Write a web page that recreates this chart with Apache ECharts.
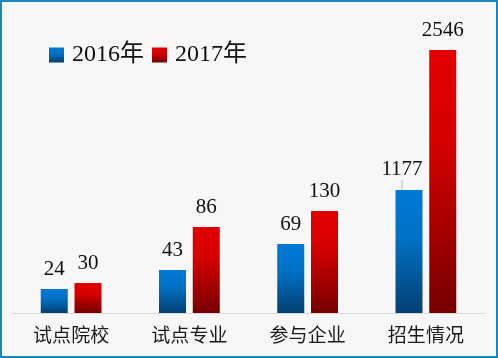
<!DOCTYPE html>
<html>
<head>
<meta charset="utf-8">
<script src="https://cdn.jsdelivr.net/npm/echarts@6/dist/echarts.min.js"></script>
<style>
html,body{margin:0;padding:0;background:#f7f7f7;}
#wrap{position:relative;width:498px;height:358px;}
#chart{width:498px;height:358px;}
#frame{position:absolute;left:0;top:0;width:498px;height:358px;box-sizing:border-box;border:2px solid #1a87c3;pointer-events:none;}
</style>
</head>
<body>
<div id="wrap"><div id="chart"></div><div id="frame"></div></div>
<script>
const categories = ['试点院校', '试点专业', '参与企业', '招生情况'];
const seriesNames = ['2016年', '2017年'];
const values2016 = [24, 43, 69, 1177];
const values2017 = [30, 86, 130, 2546];
const axisMax = 2546;
const movedLabelIndex = 3;

const chart = echarts.init(document.getElementById('chart'));
const blueGrad = new echarts.graphic.LinearGradient(0, 0, 0, 1, [
  {offset: 0, color: '#0079d6'},
  {offset: 0.4, color: '#0071c4'},
  {offset: 1, color: '#033f72'}
]);
const redGrad = new echarts.graphic.LinearGradient(0, 0, 0, 1, [
  {offset: 0, color: '#e30000'},
  {offset: 0.35, color: '#d60000'},
  {offset: 1, color: '#760000'}
]);
const serif = '"Liberation Serif", "Times New Roman", "Noto Sans CJK SC", serif';
const labelStyle = {
  show: true, position: 'top', distance: 9,
  fontFamily: serif, fontSize: 21, color: '#111'
};
chart.setOption({
  backgroundColor: '#f7f7f7',
  animation: false,
  legend: {
    left: 44, top: 38,
    itemWidth: 15, itemHeight: 15, itemGap: 8,
    icon: 'rect',
    textStyle: {fontFamily: serif, fontSize: 24, color: '#111', padding: [0,0,0,3]},
    data: seriesNames
  },
  grid: {left: 12, right: 13, top: 50, bottom: 45},
  xAxis: {
    type: 'category', data: categories,
    axisLine: {show: true, lineStyle: {color: '#d9d9d9', width: 1}},
    axisTick: {show: false},
    axisLabel: {fontFamily: '"Noto Sans CJK SC", sans-serif', fontSize: 19, color: '#1a1a1a', margin: 12}
  },
  yAxis: {
    type: 'value', show: false, min: 0, max: axisMax,
    splitLine: {show: false},
    breaks: [
      {start: 90, end: 125, gap: 7},
      {start: 132, end: 1170, gap: 12},
      {start: 1180, end: 2540, gap: 131}
    ],
    breakArea: {show: false}
  },
  series: [
    {
      name: seriesNames[0], type: 'bar',
      data: values2016.map((v, i) => i === movedLabelIndex
        ? {value: v, labelLine: {show: true, lineStyle: {color: '#bbbbbb', width: 1}}}
        : v),
      barWidth: 27, barGap: '25%',
      itemStyle: {color: blueGrad},
      label: labelStyle,
      labelLayout: function (p) { return p.dataIndex === movedLabelIndex ? {dx: -7, dy: -1} : {}; },
      labelLine: {show: false}
    },
    {
      name: seriesNames[1], type: 'bar', data: values2017,
      barWidth: 27,
      itemStyle: {color: redGrad},
      label: labelStyle
    }
  ]
});
</script>
</body>
</html>
